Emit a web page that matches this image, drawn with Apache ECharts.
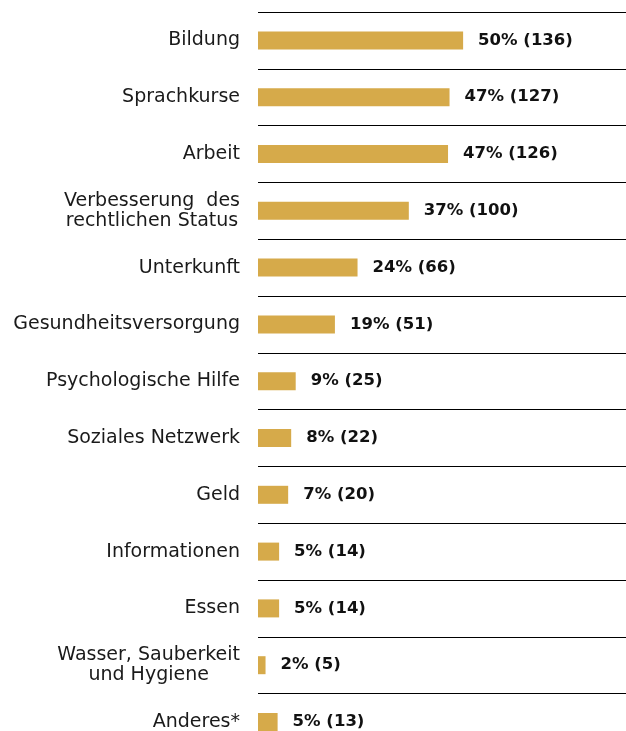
<!DOCTYPE html>
<html>
<head>
<meta charset="utf-8">
<script src="https://cdn.jsdelivr.net/npm/echarts@6/dist/echarts.min.js"></script>
<style>
html,body{margin:0;padding:0;background:#fff;}
#chart{width:626px;height:731px;}
</style>
</head>
<body>
<div id="chart"></div>
<script>
var categories = [
  'Bildung',
  'Sprachkurse',
  'Arbeit',
  'Verbesserung  des\nrechtlichen Status',
  'Unterkunft',
  'Gesundheitsversorgung',
  'Psychologische Hilfe',
  'Soziales Netzwerk',
  'Geld',
  'Informationen',
  'Essen',
  'Wasser, Sauberkeit\nund Hygiene',
  'Anderes*'
];
var percents = [50, 47, 47, 37, 24, 19, 9, 8, 7, 5, 5, 2, 5];
var counts = [136, 127, 126, 100, 66, 51, 25, 22, 20, 14, 14, 5, 13];

var chart = echarts.init(document.getElementById('chart'), null, {renderer: 'canvas'});
var FONT = '"DejaVu Sans", sans-serif';
chart.setOption({
  animation: false,
  backgroundColor: '#ffffff',
  grid: {left: 258, right: 0, top: 12, height: 738.4, containLabel: false, outerBoundsMode: 'none'},
  xAxis: {
    type: 'value', min: 0, max: 244, show: false
  },
  yAxis: {
    type: 'category',
    inverse: true,
    data: categories,
    axisLine: {show: false},
    axisTick: {show: false},
    splitLine: {show: true, lineStyle: {color: '#000000', width: 1}},
    axisLabel: {
      margin: 18,
      formatter: function (v) {
        return v.split('\n').map(function (s) { return '{c|' + s + '}'; }).join('\n');
      },
      rich: {
        c: {align: 'center', fontSize: 19, fontFamily: FONT, color: '#1a1a1a', lineHeight: 20}
      }
    }
  },
  series: [{
    type: 'bar',
    data: counts,
    barWidth: 18,
    itemStyle: {color: '#D6AA4A'},
    label: {
      show: true,
      position: 'right',
      distance: 15,
      fontFamily: FONT,
      fontWeight: 'bold',
      fontSize: 16.5,
      color: '#111111',
      formatter: function (p) { return percents[p.dataIndex] + '% (' + counts[p.dataIndex] + ')'; }
    }
  }]
});
</script>
</body>
</html>
